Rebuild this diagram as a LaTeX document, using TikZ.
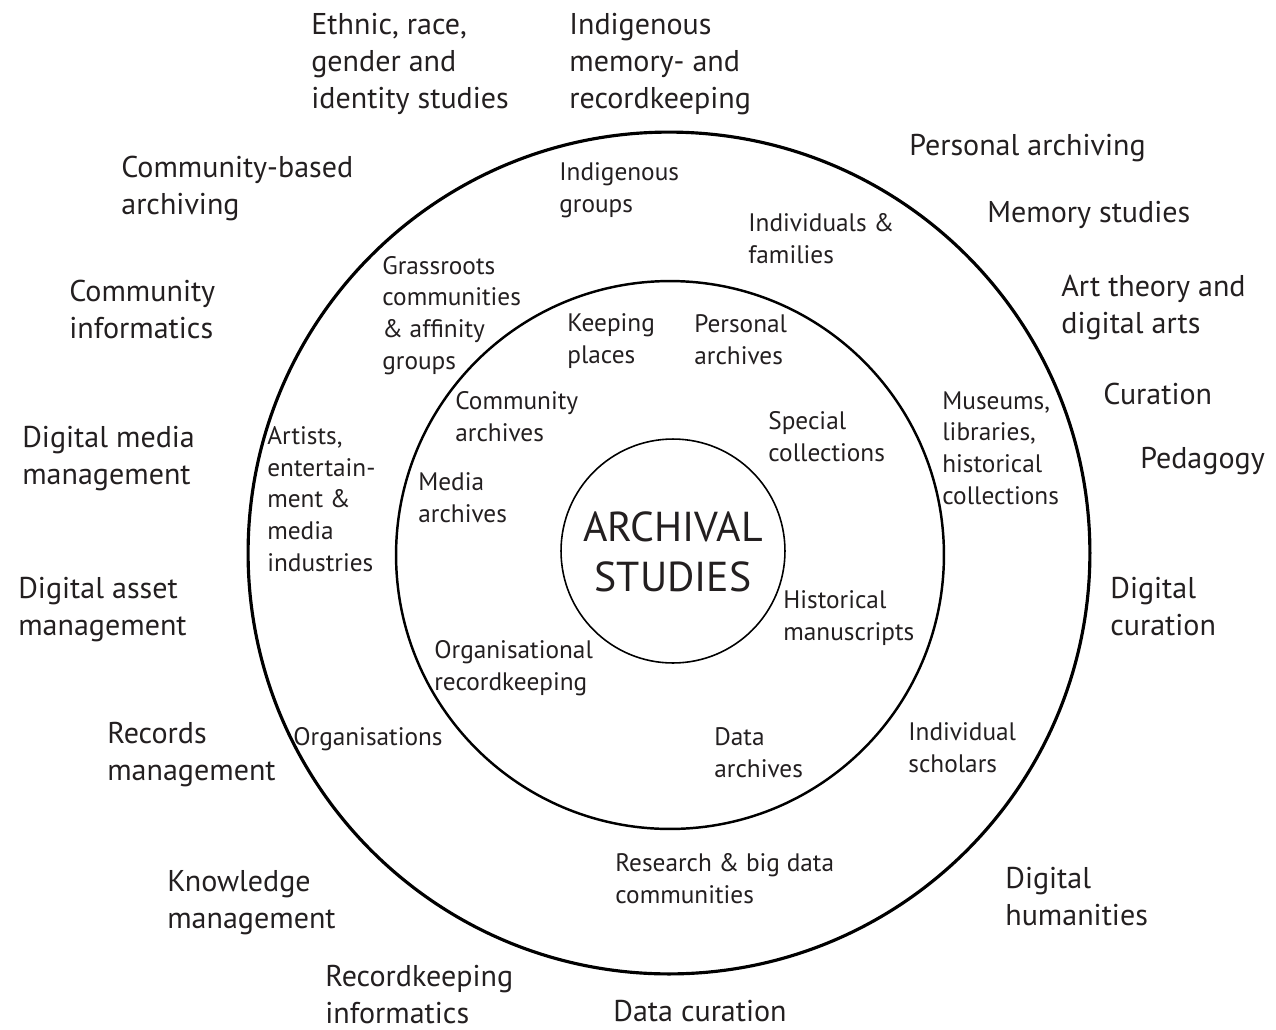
\documentclass[tikz,border=0pt]{standalone}
\usepackage{fontspec}
\setmainfont{PT Sans}
\definecolor{ink}{HTML}{231F20}

\begin{document}
\begin{tikzpicture}
        [%%%%%%%%%%%%%%%%%%%%%%%%%%%%%%
        x=0.02cm, y=-0.02cm,
        ring/.style={circle,draw=black,inner sep=0pt},
        outerlbl/.style={anchor=base west,align=left,inner sep=0pt,text=ink,font=\fontsize{17.1}{21}\selectfont},
        midlbl/.style={anchor=base west,align=left,inner sep=0pt,text=ink,font=\fontsize{14.4}{18}\selectfont},
        corelbl/.style={align=center,inner sep=0pt,text=ink,font=\fontsize{23.8}{28.5}\selectfont},
        ]%%%%%%%%%%%%%%%%%%%%%%%%%%%%%%

        \useasboundingbox (0,0) rectangle (1276,1029);

        % rings
        \node[ring,line width=1.8pt,minimum size=16.84cm] (outerring) at (669,553) {};
        \node[ring,line width=1.4pt,minimum size=10.96cm] (midring) at (670,555) {};
        \node[ring,line width=0.9pt,minimum size=4.48cm] (corering) at (673,551) {};
        \node[corelbl] (core) at (673,552) {ARCHIVAL\\STUDIES};

        % outside the rings (placed at the baseline of the last line)
        \node[outerlbl] (ethnic) at (311,108) {Ethnic, race,\\gender and\\identity studies};
        \node[outerlbl] (indigmem) at (569,108) {Indigenous\\memory- and\\recordkeeping};
        \node[outerlbl] (persarch) at (909,155) {Personal archiving};
        \node[outerlbl] (memory) at (987,222) {Memory studies};
        \node[outerlbl] (arttheory) at (1061,333) {Art theory and\\digital arts};
        \node[outerlbl] (curation) at (1103,404) {Curation};
        \node[outerlbl] (pedagogy) at (1140,468) {Pedagogy};
        \node[outerlbl] (digcur) at (1110,635) {Digital\\curation};
        \node[outerlbl] (dighum) at (1005,925) {Digital\\humanities};
        \node[outerlbl] (datacur) at (613,1021) {Data curation};
        \node[outerlbl] (rkinf) at (325,1023) {Recordkeeping\\informatics};
        \node[outerlbl] (knowmgmt) at (167,928) {Knowledge\\management};
        \node[outerlbl] (recmgmt) at (107,780) {Records\\management};
        \node[outerlbl] (digasset) at (18,635) {Digital asset\\management};
        \node[outerlbl] (digmedia) at (22,484) {Digital media\\management};
        \node[outerlbl] (comminf) at (69,338) {Community\\informatics};
        \node[outerlbl] (commbased) at (121,214) {Community-based\\archiving};

        % between outer and middle ring
        \node[midlbl] (indiggrp) at (559,212) {Indigenous\\groups};
        \node[midlbl] (indiv) at (748,263) {Individuals \&\\families};
        \node[midlbl] (grassroots) at (382,369) {Grassroots\\communities\\\& affinity\\groups};
        \node[midlbl] (artists) at (267,571) {Artists,\\entertain-\\ment \&\\media\\industries};
        \node[midlbl] (museums) at (942,504) {Museums,\\libraries,\\historical\\collections};
        \node[midlbl] (orgs) at (293,745) {Organisations};
        \node[midlbl] (scholars) at (908,772) {Individual\\scholars};
        \node[midlbl] (research) at (615,903) {Research \& big data\\communities};

        % between middle and core ring
        \node[midlbl] (keeping) at (567,363) {Keeping\\places};
        \node[midlbl] (personal) at (694,364) {Personal\\archives};
        \node[midlbl] (commarch) at (455,441) {Community\\archives};
        \node[midlbl] (special) at (768,461) {Special\\collections};
        \node[midlbl] (media) at (418,522) {Media\\archives};
        \node[midlbl] (historical) at (783,640) {Historical\\manuscripts};
        \node[midlbl] (orgrk) at (434,690) {Organisational\\recordkeeping};
        \node[midlbl] (data) at (714,777) {Data\\archives};

      \end{tikzpicture}
\end{document}
